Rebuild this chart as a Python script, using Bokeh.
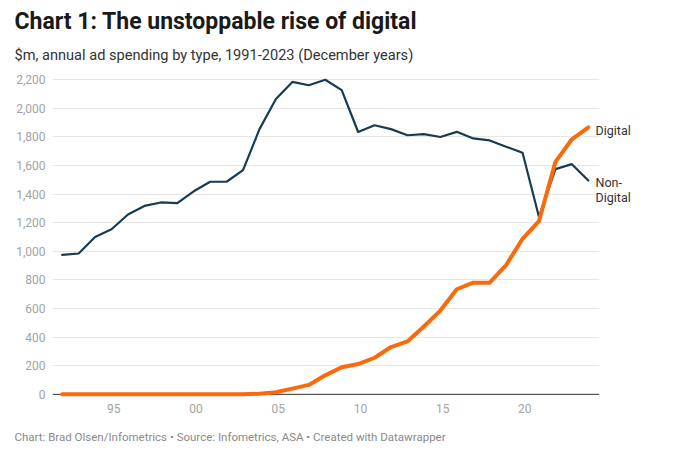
from bokeh.plotting import figure
from bokeh.models import (Range1d, FixedTicker, NumeralTickFormatter, Span, Title,
                          LinearAxis)
from bokeh.embed import file_html
from bokeh.resources import INLINE

# Annual ad spending ($m) by type, December years
years = list(range(1991, 2024))
non_digital = [975, 985, 1100, 1155, 1258, 1318, 1342, 1338, 1420, 1487, 1487, 1568,
               1855, 2065, 2185, 2162, 2200, 2128, 1835, 1882, 1855, 1812, 1820, 1800,
               1836, 1790, 1776, 1732, 1690, 1240, 1575, 1610, 1495]
digital = [0, 0, 0, 0, 0, 0, 0, 0, 0, 0, 0, 0,
           5, 15, 40, 66, 133, 190, 212, 256, 331, 370, 475, 586,
           735, 781, 781, 904, 1088, 1212, 1626, 1784, 1868]

tick_years = [1995, 2000, 2005, 2010, 2015, 2020]
tick_labels = ["95", "00", "05", "10", "15", "20"]
y_ticks = list(range(0, 2201, 200))

TITLE = "Chart 1: The unstoppable rise of digital"
SUBTITLE = "$m, annual ad spending by type, 1991-2023 (December years)"
FOOTER = "Chart: Brad Olsen/Infometrics \u2022 Source: Infometrics, ASA \u2022 Created with Datawrapper"

FONT = "Roboto"
NAVY = "#173b55"
ORANGE = "#fa6a0a"

# each December year sits near the end of its calendar year
xs = [y + 0.86 for y in years]

p = figure(width=680, height=456, output_backend="svg", toolbar_location=None,
           x_range=Range1d(1991.27, 2024.54), y_range=Range1d(-29, 2265),
           min_border_left=52, min_border_right=81, min_border_top=70, min_border_bottom=58)
p.outline_line_color = None
p.background_fill_color = "white"
p.border_fill_color = "white"

# headline and subtitle above the plot, source line below
p.title.text = TITLE
p.title.text_font = FONT
p.title.text_font_size = "23px"
p.title.text_font_style = "bold"
p.title.text_color = "#1a1a1a"
p.title.align = "left"
p.title.offset = -38
p.title.standoff = 6
p.add_layout(Title(text=SUBTITLE, text_font=FONT, text_font_size="14.6px",
                   text_font_style="normal", text_color="#333333",
                   align="left", offset=-38, standoff=13), "above")

# axes
p.xaxis.ticker = FixedTicker(ticks=tick_years)
p.xaxis.major_label_overrides = {t: l for t, l in zip(tick_years, tick_labels)}
p.yaxis.ticker = FixedTicker(ticks=y_ticks)
p.yaxis.formatter = NumeralTickFormatter(format="0,0")

# line-end labels, carried by a right-hand axis
digital_label_y = digital[-1] - 21
non_label_y = non_digital[-1] - 15
non_label_y2 = non_digital[-1] - 115
end_axis = LinearAxis(ticker=FixedTicker(ticks=[digital_label_y, non_label_y, non_label_y2]),
                      major_label_overrides={digital_label_y: "Digital",
                                             non_label_y: "Non-",
                                             non_label_y2: "Digital"})
p.add_layout(end_axis, "right")

for ax in (p.xaxis[0], p.yaxis[0], end_axis):
    ax.axis_line_color = None
    ax.major_tick_line_color = None
    ax.minor_tick_line_color = None
    ax.major_tick_out = 0
    ax.minor_tick_out = 0
    ax.major_tick_in = 0
    ax.major_label_text_font = FONT
    ax.major_label_text_font_size = "12px"
    ax.major_label_text_color = "#a3a3a3"
p.yaxis[0].major_label_standoff = 7
p.xaxis[0].major_label_standoff = 5
end_axis.major_label_standoff = -4
end_axis.major_label_text_font_size = "12.5px"
end_axis.major_label_text_color = "#333333"

p.add_layout(Title(text=FOOTER, text_font=FONT, text_font_size="11.5px",
                   text_font_style="normal", text_color="#8a8a8a",
                   align="left", offset=-38, standoff=25), "below")

p.xgrid.grid_line_color = None
p.ygrid.ticker = FixedTicker(ticks=y_ticks[1:])
p.ygrid.grid_line_color = "#e6e6e6"
p.ygrid.grid_line_width = 1

baseline = Span(location=0, dimension="width", line_color="#333333", line_width=1, level="underlay")
p.add_layout(baseline)

p.line(xs, non_digital, line_color=NAVY, line_width=2.2, line_join="round", line_cap="round")
p.line(xs, digital, line_color=ORANGE, line_width=4, line_join="round", line_cap="round")

open("out.html", "w").write(file_html(p, INLINE))
